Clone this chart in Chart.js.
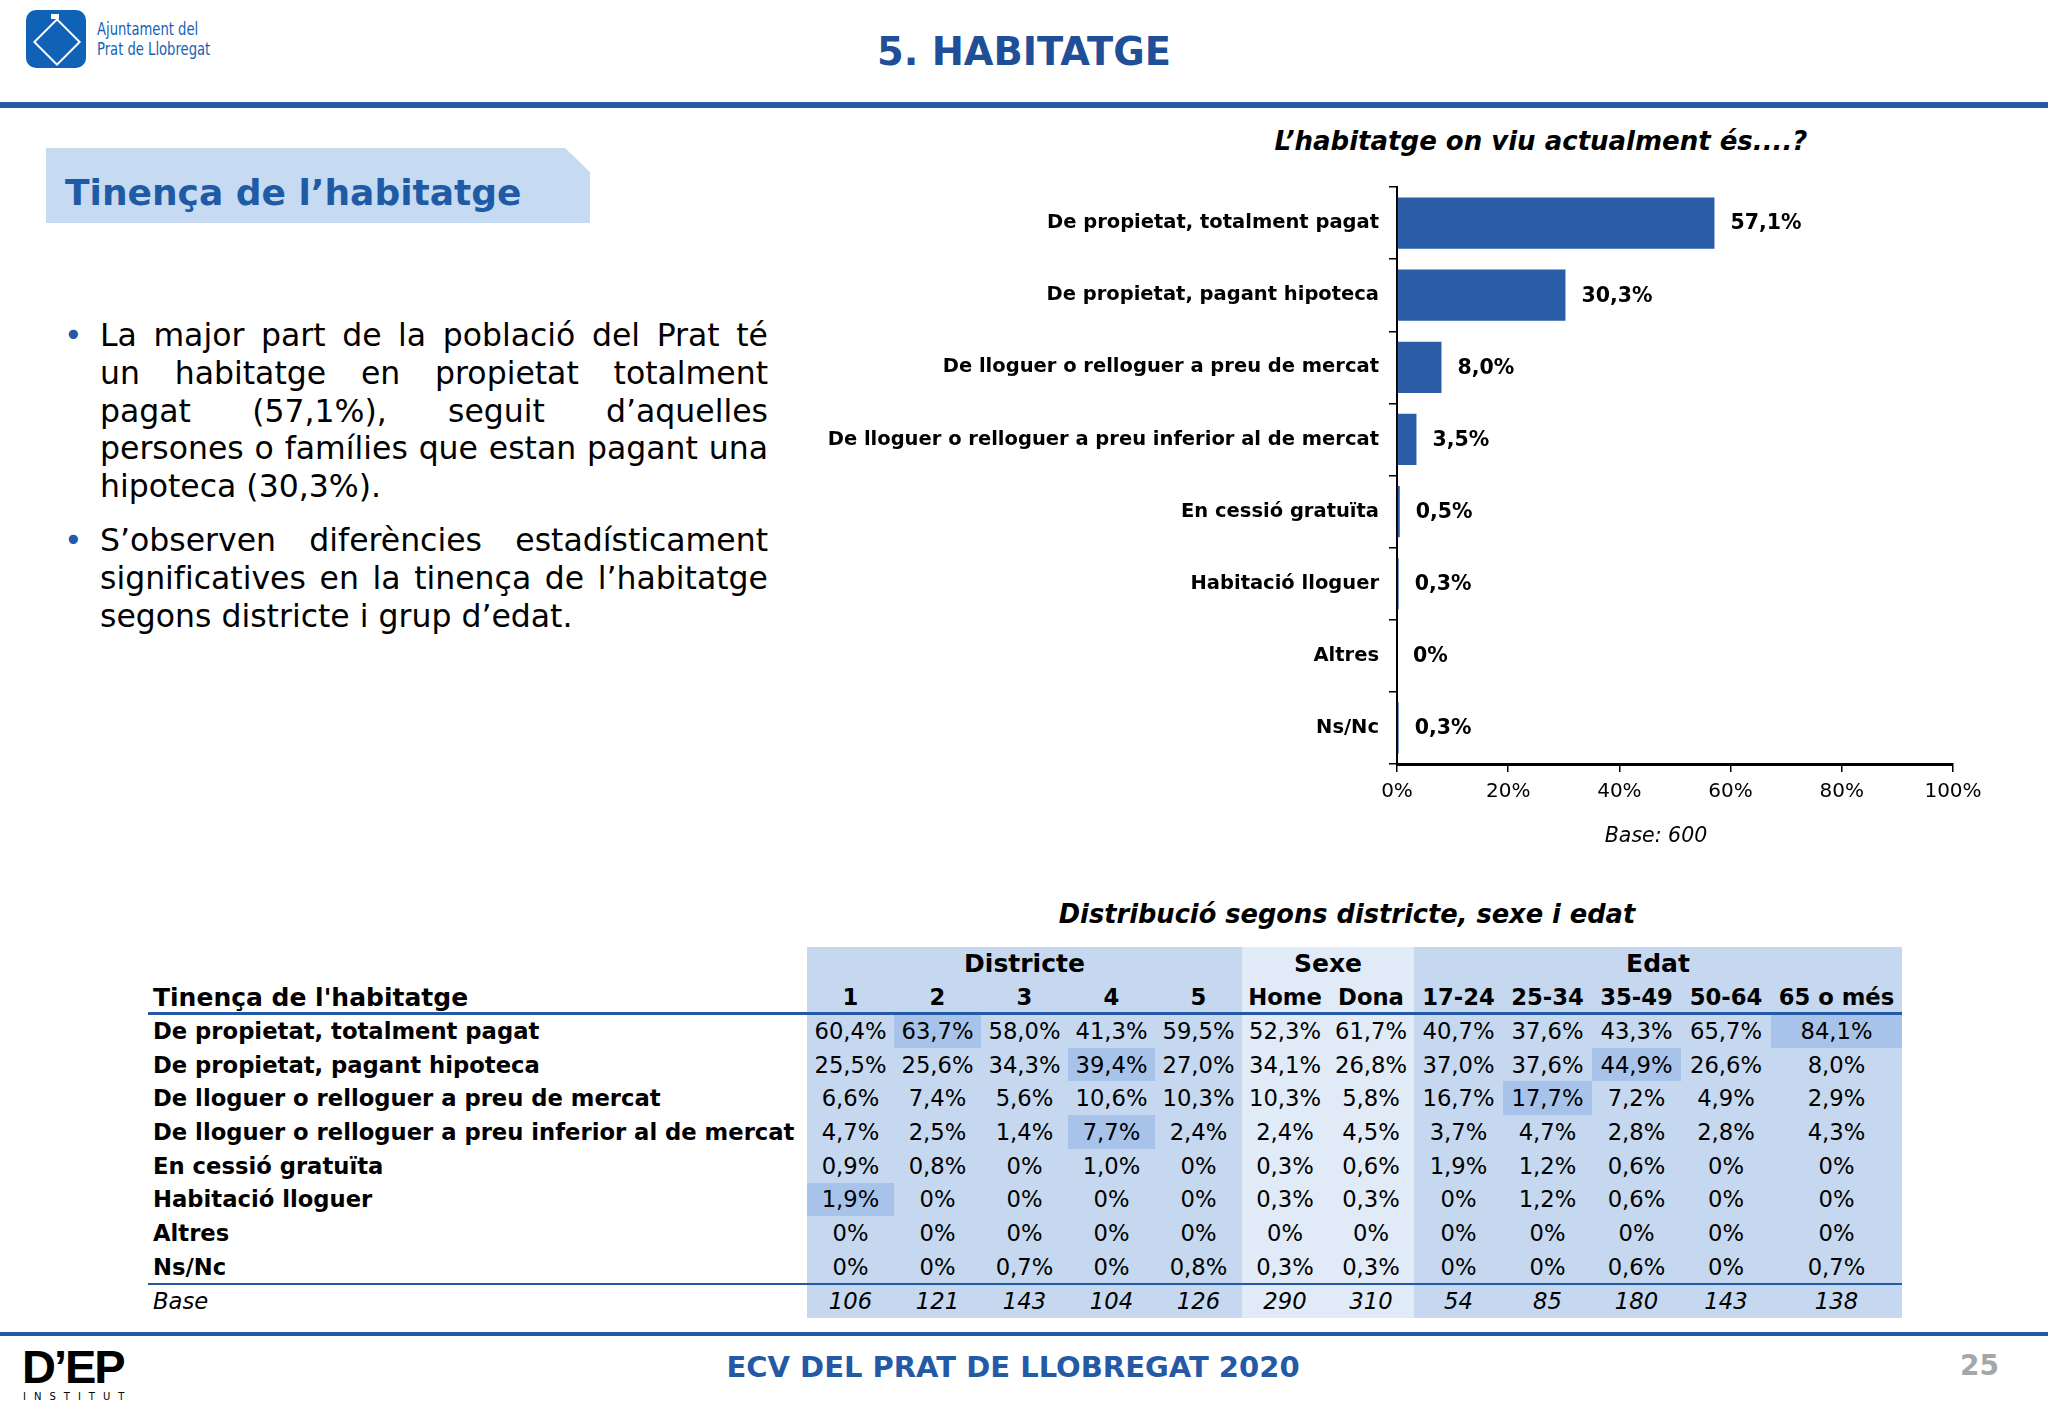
<!DOCTYPE html>
<html lang="ca">
<head>
<meta charset="utf-8">
<title>Tinença de l'habitatge</title>
<script src="https://cdn.jsdelivr.net/npm/chart.js@4.4.1/dist/chart.umd.min.js"></script>
<style>
  html, body { margin:0; padding:0; background:#fff; }
  body { width:2048px; height:1418px; position:relative; overflow:hidden; font-family:"DejaVu Sans", Verdana, sans-serif; color:#000; }
  .abs { position:absolute; white-space:nowrap; }
  .blue { color:#2459A6; }
  .bline { display:block; text-align:justify; text-align-last:justify; white-space:normal; }
  .lline { display:block; text-align:left; }
  .cell { position:absolute; display:flex; align-items:center; justify-content:center; white-space:nowrap; }
</style>
</head>
<body>
<!-- header -->
<div class="abs" style="left:26px;top:10px;width:60px;height:58px;background:#0F62B5;border-radius:10px;"></div>
<div class="abs" style="left:40px;top:25px;width:30px;height:30px;border:2px solid #fff;transform:rotate(45deg);"></div>
<div class="abs" style="left:51px;top:14px;width:8px;height:5px;background:#fff;"></div>
<div class="abs" style="left:97px;top:19px;font-family:'Liberation Sans Narrow','DejaVu Sans Condensed','Liberation Sans',sans-serif;font-size:17px;line-height:20px;color:#1462B4;transform:scaleX(0.86);transform-origin:0 0;">Ajuntament del<br>Prat de Llobregat</div>
<div class="abs blue" style="left:0;width:2048px;top:29px;text-align:center;font-weight:bold;font-size:38.4px;line-height:46px;color:#1F4F98;">5. HABITATGE</div>
<div class="abs" style="left:0;top:102px;width:2048px;height:6px;background:#2459A6;"></div>

<!-- section title box -->
<div class="abs" style="left:46px;top:148px;width:544px;height:75px;background:#C6DAF1;clip-path:polygon(0 0,519px 0,544px 24px,544px 75px,0 75px);"></div>
<div class="abs" style="left:65px;top:171px;font-weight:bold;font-size:36px;line-height:44px;color:#1F5AA6;">Tinença de l’habitatge</div>

<!-- bullets -->
<div class="abs" style="left:64px;top:317px;font-size:31.5px;line-height:37.8px;color:#2459A6;">•</div>
<div class="abs" style="left:100px;top:317px;width:668px;font-size:31.5px;line-height:37.8px;white-space:normal;">
  <span class="bline">La major part de la població del Prat té</span>
  <span class="bline">un habitatge en propietat totalment</span>
  <span class="bline">pagat (57,1%), seguit d’aquelles</span>
  <span class="bline">persones o famílies que estan pagant una</span>
  <span class="lline">hipoteca (30,3%).</span>
</div>
<div class="abs" style="left:64px;top:522px;font-size:31.5px;line-height:37.8px;color:#2459A6;">•</div>
<div class="abs" style="left:100px;top:522px;width:668px;font-size:31.5px;line-height:37.8px;white-space:normal;">
  <span class="bline">S’observen diferències estadísticament</span>
  <span class="bline">significatives en la tinença de l’habitatge</span>
  <span class="lline">segons districte i grup d’edat.</span>
</div>

<!-- chart -->
<div class="abs" style="left:1141px;width:800px;top:125px;text-align:center;font-weight:bold;font-style:italic;font-size:26px;line-height:32px;">L’habitatge on viu actualment és....?</div>
<canvas id="chart" width="1248" height="700" style="position:absolute;left:800px;top:160px;width:1248px;height:700px;"></canvas>
<div class="abs" style="left:1556px;width:200px;top:823px;text-align:center;font-style:italic;font-size:20.5px;line-height:24px;">Base: 600</div>

<!-- table -->
<div class="abs" style="left:947px;width:800px;top:898px;text-align:center;font-weight:bold;font-style:italic;font-size:25.7px;line-height:32px;">Distribució segons districte, sexe i edat</div>
<div id="table"></div>

<!-- footer -->
<div class="abs" style="left:0;top:1332px;width:2048px;height:4px;background:#2459A6;"></div>
<div class="abs" style="left:22px;top:1341px;font-weight:900;font-size:47px;line-height:52px;letter-spacing:-2px;font-family:'Liberation Sans','DejaVu Sans',sans-serif;">D’EP</div>
<div class="abs" style="left:23px;top:1391px;font-size:10px;line-height:12px;letter-spacing:8px;">INSTITUT</div>
<div class="abs" style="left:-11px;width:2048px;top:1350px;text-align:center;font-weight:bold;font-size:29px;line-height:34px;color:#2459A6;">ECV DEL PRAT DE LLOBREGAT 2020</div>
<div class="abs" style="left:1960px;top:1349px;font-weight:bold;font-size:28px;line-height:34px;color:#A6A6A6;">25</div>

<script>
// ---------- Chart data ----------
const categories = [
  'De propietat, totalment pagat',
  'De propietat, pagant hipoteca',
  'De lloguer o relloguer a preu de mercat',
  'De lloguer o relloguer a preu inferior al de mercat',
  'En cessió gratuïta',
  'Habitació lloguer',
  'Altres',
  'Ns/Nc'
];
const totalValues = [57.1, 30.3, 8.0, 3.5, 0.5, 0.3, 0, 0.3];
const xTicks = [0, 20, 40, 60, 80, 100];

// ---------- Table data ----------
const tableRowLabels = categories;
const districteCols = ['1', '2', '3', '4', '5'];
const sexeCols = ['Home', 'Dona'];
const edatCols = ['17-24', '25-34', '35-49', '50-64', '65 o més'];
const row0 = [60.4, 63.7, 58.0, 41.3, 59.5, 52.3, 61.7, 40.7, 37.6, 43.3, 65.7, 84.1];
const row1 = [25.5, 25.6, 34.3, 39.4, 27.0, 34.1, 26.8, 37.0, 37.6, 44.9, 26.6, 8.0];
const row2 = [6.6, 7.4, 5.6, 10.6, 10.3, 10.3, 5.8, 16.7, 17.7, 7.2, 4.9, 2.9];
const row3 = [4.7, 2.5, 1.4, 7.7, 2.4, 2.4, 4.5, 3.7, 4.7, 2.8, 2.8, 4.3];
const row4 = [0.9, 0.8, 0, 1.0, 0, 0.3, 0.6, 1.9, 1.2, 0.6, 0, 0];
const row5 = [1.9, 0, 0, 0, 0, 0.3, 0.3, 0, 1.2, 0.6, 0, 0];
const row6 = [0, 0, 0, 0, 0, 0, 0, 0, 0, 0, 0, 0];
const row7 = [0, 0, 0.7, 0, 0.8, 0.3, 0.3, 0, 0, 0.6, 0, 0.7];
const baseRow = [106, 121, 143, 104, 126, 290, 310, 54, 85, 180, 143, 138];
const highlighted = [[0, 1], [0, 11], [1, 3], [1, 9], [2, 8], [3, 3], [5, 0]];

function fmtPct(v) { return v === 0 ? '0%' : v.toFixed(1).replace('.', ',') + '%'; }

// ---------- Chart ----------
const valueLabels = {
  id: 'valueLabels',
  afterDatasetsDraw(chart) {
    const ctx = chart.ctx;
    const meta = chart.getDatasetMeta(0);
    ctx.save();
    ctx.font = 'bold 20.5px "DejaVu Sans"';
    ctx.fillStyle = '#000';
    ctx.textAlign = 'left';
    ctx.textBaseline = 'middle';
    meta.data.forEach((bar, i) => {
      ctx.fillText(fmtPct(totalValues[i]), bar.x + 16, bar.y + 1);
    });
    ctx.restore();
  }
};

new Chart(document.getElementById('chart'), {
  type: 'bar',
  data: {
    labels: categories,
    datasets: [{
      data: totalValues,
      backgroundColor: '#2A5DA8',
      borderWidth: 0,
      barPercentage: 0.71,
      categoryPercentage: 1.0
    }]
  },
  options: {
    indexAxis: 'y',
    responsive: false,
    animation: false,
    devicePixelRatio: 1,
    layout: { padding: { top: 27, right: 95, bottom: 0, left: 0 } },
    plugins: { legend: { display: false }, tooltip: { enabled: false } },
    scales: {
      y: {
        afterFit(scale) { scale.width = 597; },
        border: { display: true, color: '#000', width: 2 },
        grid: { display: true, drawOnChartArea: false, drawTicks: true, tickLength: 8, color: '#000', lineWidth: 1.5 },
        ticks: { color: '#000', padding: 10, font: { family: 'DejaVu Sans', size: 19.5, weight: 'bold' } }
      },
      x: {
        min: 0, max: 100,
        afterFit(scale) { scale.height = 96; },
        afterBuildTicks(scale) { scale.ticks = xTicks.map(v => ({ value: v })); },
        border: { display: true, color: '#000', width: 3 },
        grid: { display: true, drawOnChartArea: false, drawTicks: true, tickLength: 8, color: '#000', lineWidth: 1.5 },
        ticks: { color: '#000', padding: 8, font: { family: 'DejaVu Sans', size: 20 }, callback: v => v + '%' }
      }
    }
  },
  plugins: [valueLabels]
});

// ---------- Table ----------
(function buildTable() {
  const rows = [row0, row1, row2, row3, row4, row5, row6, row7];
  const cols = districteCols.concat(sexeCols, edatCols);
  const colW = [87, 87, 87, 87, 87, 86, 86, 89, 89, 89, 90, 131];
  const colX = []; let x = 807;
  colW.forEach(w => { colX.push(x); x += w; });
  const tableRight = x;
  const top = 947, groupH = 33, subH = 33, rowH = 33.7;
  const bodyTop = top + groupH + subH; // 1013
  const fs = 22.7;
  const root = document.getElementById('table');
  function add(html, style) {
    const d = document.createElement('div');
    d.className = 'cell';
    d.style.cssText += style;
    d.innerHTML = html;
    root.appendChild(d);
    return d;
  }
  const totalH = groupH + subH + rows.length * rowH + rowH + 2;
  const groups = [
    { name: 'Districte', from: 0, n: districteCols.length, bg: '#C5D8F0' },
    { name: 'Sexe', from: districteCols.length, n: sexeCols.length, bg: '#E1EAF7' },
    { name: 'Edat', from: districteCols.length + sexeCols.length, n: edatCols.length, bg: '#C5D8F0' }
  ];
  groups.forEach(g => {
    const left = colX[g.from];
    const right = colX[g.from + g.n - 1] + colW[g.from + g.n - 1];
    add('', `left:${left}px;top:${top}px;width:${right - left}px;height:${totalH}px;background:${g.bg};`);
    add(g.name, `left:${left}px;top:${top}px;width:${right - left}px;height:${groupH}px;font-weight:bold;font-size:25px;`);
  });
  highlighted.forEach(([r, c]) => {
    add('', `left:${colX[c]}px;top:${bodyTop + 1 + r * rowH}px;width:${colW[c]}px;height:${rowH}px;background:#A8C3EA;`);
  });
  add("Tinença de l'habitatge", `left:153px;top:${top + groupH + 1}px;height:${subH}px;justify-content:flex-start;font-weight:bold;font-size:25px;`);
  cols.forEach((c, i) => {
    add(c, `left:${colX[i]}px;top:${top + groupH}px;width:${colW[i]}px;height:${subH}px;font-weight:bold;font-size:${fs}px;`);
  });
  add('', `left:148px;top:${bodyTop - 1}px;width:${tableRight - 148}px;height:2.5px;background:#2459A6;`);
  rows.forEach((vals, r) => {
    const y = bodyTop + 1 + r * rowH;
    add(tableRowLabels[r], `left:153px;top:${y}px;height:${rowH}px;justify-content:flex-start;font-weight:bold;font-size:${fs}px;`);
    vals.forEach((v, i) => {
      add(fmtPct(v), `left:${colX[i]}px;top:${y}px;width:${colW[i]}px;height:${rowH}px;font-size:${fs}px;`);
    });
  });
  const baseY = bodyTop + 1 + rows.length * rowH;
  add('', `left:148px;top:${baseY - 1}px;width:${tableRight - 148}px;height:2.5px;background:#2459A6;`);
  add('Base', `left:153px;top:${baseY + 1}px;height:${rowH}px;justify-content:flex-start;font-style:italic;font-size:${fs}px;`);
  baseRow.forEach((v, i) => {
    add(String(v), `left:${colX[i]}px;top:${baseY + 1}px;width:${colW[i]}px;height:${rowH}px;font-style:italic;font-size:${fs}px;`);
  });
})();
</script>
</body>
</html>
